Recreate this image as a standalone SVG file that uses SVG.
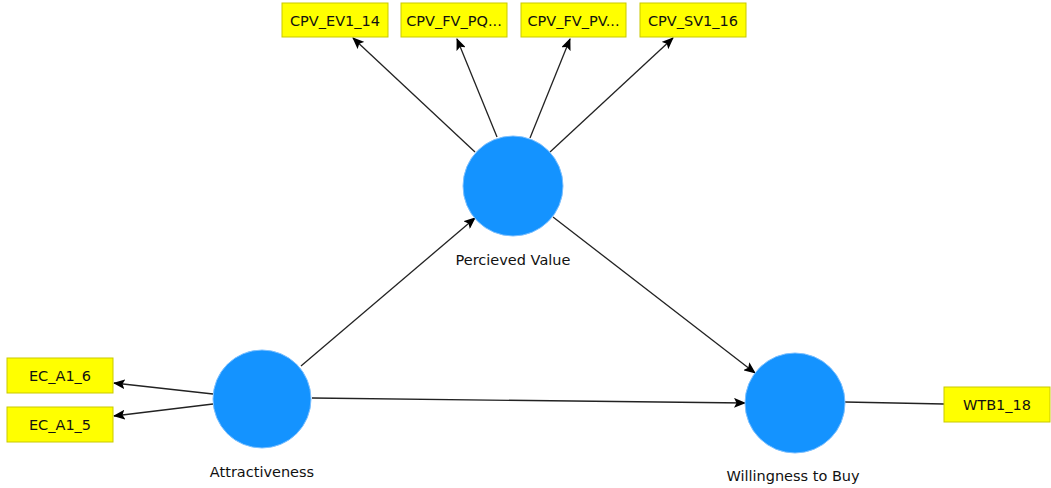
<svg xmlns="http://www.w3.org/2000/svg" width="1051" height="488" viewBox="0 0 1051 488">
<style>
.ind{fill:#ffff00;stroke:#c9c900;stroke-width:1}
.lat{fill:#1493ff;stroke:#7cc0ff;stroke-width:1}
.t{font-family:"DejaVu Sans",sans-serif;font-size:14.5px;fill:#111;text-anchor:middle}
.e{stroke:#222;stroke-width:1.3;fill:none}
</style>
<defs>
<marker id="ah" viewBox="0 0 12 10" refX="11" refY="5" markerWidth="12" markerHeight="10" markerUnits="userSpaceOnUse" orient="auto">
<path d="M0,0 L12,5 L0,10 L2.5,5 Z" fill="#000"/>
</marker>
</defs>
<g id="connectors">
<line class="e" x1="475" y1="152" x2="353" y2="38" marker-end="url(#ah)"/>
<line class="e" x1="497" y1="137" x2="457" y2="39" marker-end="url(#ah)"/>
<line class="e" x1="530" y1="138" x2="570" y2="39" marker-end="url(#ah)"/>
<line class="e" x1="550" y1="152" x2="673" y2="38" marker-end="url(#ah)"/>
<line class="e" x1="301" y1="366" x2="475" y2="218" marker-end="url(#ah)"/>
<line class="e" x1="553" y1="217" x2="755" y2="373" marker-end="url(#ah)"/>
<line class="e" x1="312" y1="398" x2="745" y2="403" marker-end="url(#ah)"/>
<line class="e" x1="213" y1="394" x2="114" y2="383" marker-end="url(#ah)"/>
<line class="e" x1="213" y1="404" x2="114" y2="416" marker-end="url(#ah)"/>
<line class="e" x1="845" y1="402" x2="944" y2="404"/>
</g>
<g id="CPV_EV1_14"><rect class="ind" x="282" y="3" width="106" height="34"/><text class="t" x="335" y="26">CPV_EV1_14</text></g>
<g id="CPV_FV_PQ"><rect class="ind" x="401" y="3" width="106" height="34"/><text class="t" x="454" y="26">CPV_FV_PQ...</text></g>
<g id="CPV_FV_PV"><rect class="ind" x="521" y="3" width="105" height="34"/><text class="t" x="573.5" y="26">CPV_FV_PV...</text></g>
<g id="CPV_SV1_16"><rect class="ind" x="640" y="3" width="106" height="34"/><text class="t" x="693" y="26">CPV_SV1_16</text></g>
<g id="PerceivedValue"><circle class="lat" cx="513" cy="186" r="50"/><text class="t" x="513" y="265">Percieved Value</text></g>
<g id="Attractiveness"><circle class="lat" cx="262" cy="399" r="49"/><text class="t" x="262" y="477">Attractiveness</text></g>
<g id="WillingnessToBuy"><circle class="lat" cx="795" cy="403" r="50"/><text class="t" x="793" y="481">Willingness to Buy</text></g>
<g id="EC_A1_6"><rect class="ind" x="7" y="358" width="106" height="35"/><text class="t" x="60" y="381">EC_A1_6</text></g>
<g id="EC_A1_5"><rect class="ind" x="7" y="407" width="106" height="35"/><text class="t" x="60" y="430">EC_A1_5</text></g>
<g id="WTB1_18"><rect class="ind" x="944" y="387" width="106" height="35"/><text class="t" x="997" y="410">WTB1_18</text></g>
</svg>
